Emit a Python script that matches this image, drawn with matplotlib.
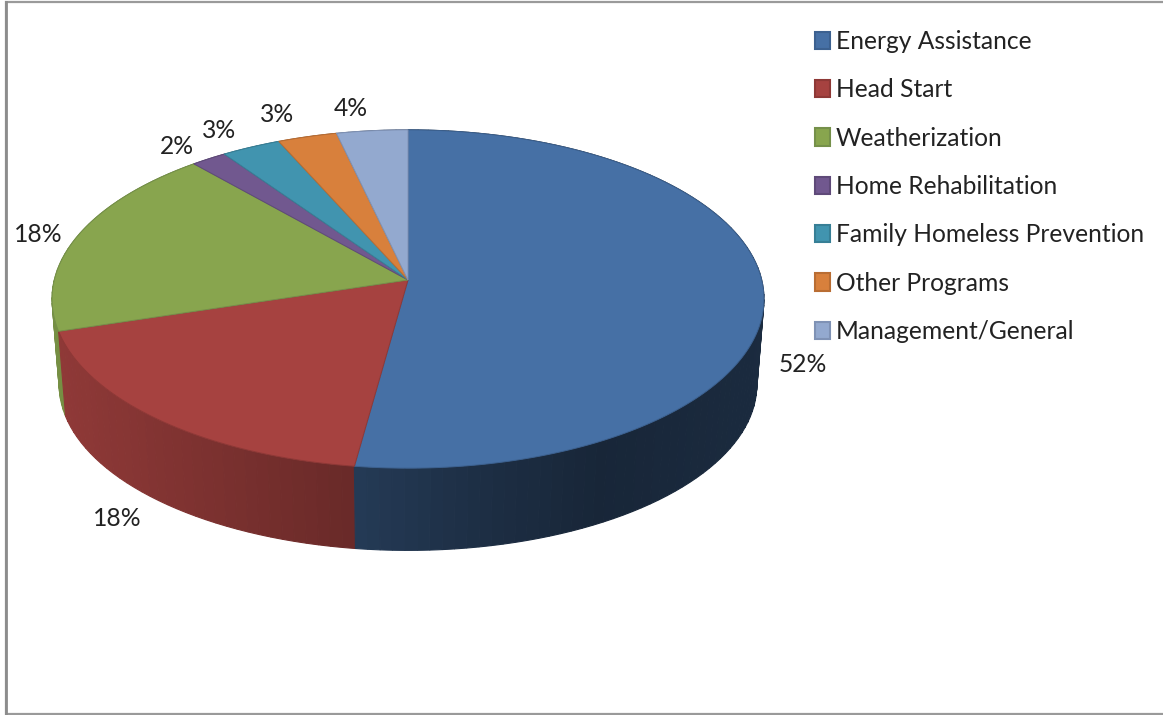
import numpy as np
from matplotlib import pyplot as plt
from matplotlib.colors import to_rgb
from matplotlib.patches import Patch, Polygon

plt.rcParams['font.family'] = ['Lato', 'DejaVu Sans']

programs = ['Energy Assistance', 'Head Start', 'Weatherization', 'Home Rehabilitation',
            'Family Homeless Prevention', 'Other Programs', 'Management/General']
shares = [52.15, 18.05, 18.4, 1.8, 3.0, 3.0, 3.6]
share_labels = ['52%', '18%', '18%', '2%', '3%', '3%', '4%']
colors = ['#4670A5', '#A64240', '#88A54E', '#71588F', '#4194AF', '#D8803C', '#93A9CF']
edges = ['#3C6190', '#8E3836', '#75904A', '#5F4A79', '#377F96', '#B96D33', '#7F92B5']
label_pos = [(803, 365), (117, 518), (38, 235), (177, 146), (219, 130), (277, 115), (351, 108)]

# perspective disc, in image pixels
CX, APEX_Y = 408, 280
RX, RY, K = 353.7, 167, 0.1124
WALL_Y, WALL_SCALE = 366, 0.98


def top_edge(theta):
    d = 1 + K * np.cos(theta)
    return CX + RX * np.sin(theta) / d, APEX_Y - RY * np.cos(theta) / d


def bottom_edge(theta):
    d = 1 + K * np.cos(theta)
    return (CX + WALL_SCALE * RX * np.sin(theta) / d,
            WALL_Y - WALL_SCALE * RY * np.cos(theta) / d)


def wall_shade(x):
    # the side gets darker to the right, with a jump at the blue slice
    return np.interp(x, [50, 355.9, 356, 470, 600, 760], [0.87, 0.63, 0.52, 0.42, 0.34, 0.38])


fig = plt.figure(figsize=(11.63, 7.15), dpi=100)
ax = fig.add_axes([0, 0, 1, 1])
ax.set_xlim(0, 1163)
ax.set_ylim(715, 0)
ax.axis('off')

# chart frame, open on the right
ax.plot([1163, 6, 6, 1163], [2, 2, 714, 714], color='#9A9A9A', lw=1.6, solid_joinstyle='miter')
ax.plot([6, 6], [2, 714], color='#8C8C8C', lw=2)

cum = np.concatenate([[0], np.cumsum(shares)]) / sum(shares) * 2 * np.pi

# side wall strips, far ones first
strips = []
for i in range(len(shares)):
    t = np.linspace(cum[i], cum[i + 1], max(4, int(shares[i] * 2)))
    for a, b in zip(t[:-1], t[1:]):
        strips.append((a, b, i))
strips.sort(key=lambda s: -np.cos((s[0] + s[1]) / 2))

for a, b, i in strips:
    arc = np.linspace(a, b, 6)
    xt, yt = top_edge(arc)
    xb, yb = bottom_edge(arc[::-1])
    rgb = np.array(to_rgb(colors[i])) * wall_shade(xt.mean())
    pts = list(zip(xt, yt)) + list(zip(xb, yb))
    ax.add_patch(Polygon(pts, closed=True, facecolor=rgb, edgecolor=rgb, lw=0.8))

# top face
for i in range(len(shares)):
    t = np.linspace(cum[i], cum[i + 1], 200)
    xs, ys = top_edge(t)
    pts = [(CX, APEX_Y)] + list(zip(xs, ys))
    ax.add_patch(Polygon(pts, closed=True, facecolor=colors[i], edgecolor=edges[i], lw=0.7))

for lab, (x, y) in zip(share_labels, label_pos):
    ax.text(x, y, lab, fontsize=17.7, color='#222222', ha='center', va='center')

handles = [Patch(facecolor=c, edgecolor=e, lw=1.5) for c, e in zip(colors, edges)]
ax.legend(handles, programs, loc='upper left', bbox_to_anchor=(815 / 1163, 1 - 30 / 715),
          frameon=False, fontsize=17.7, labelcolor='#222222', borderpad=0, borderaxespad=0,
          handlelength=0.62, handleheight=0.7, handletextpad=0.22, labelspacing=1.03)

fig.savefig('out.png', dpi=100, facecolor='white')
